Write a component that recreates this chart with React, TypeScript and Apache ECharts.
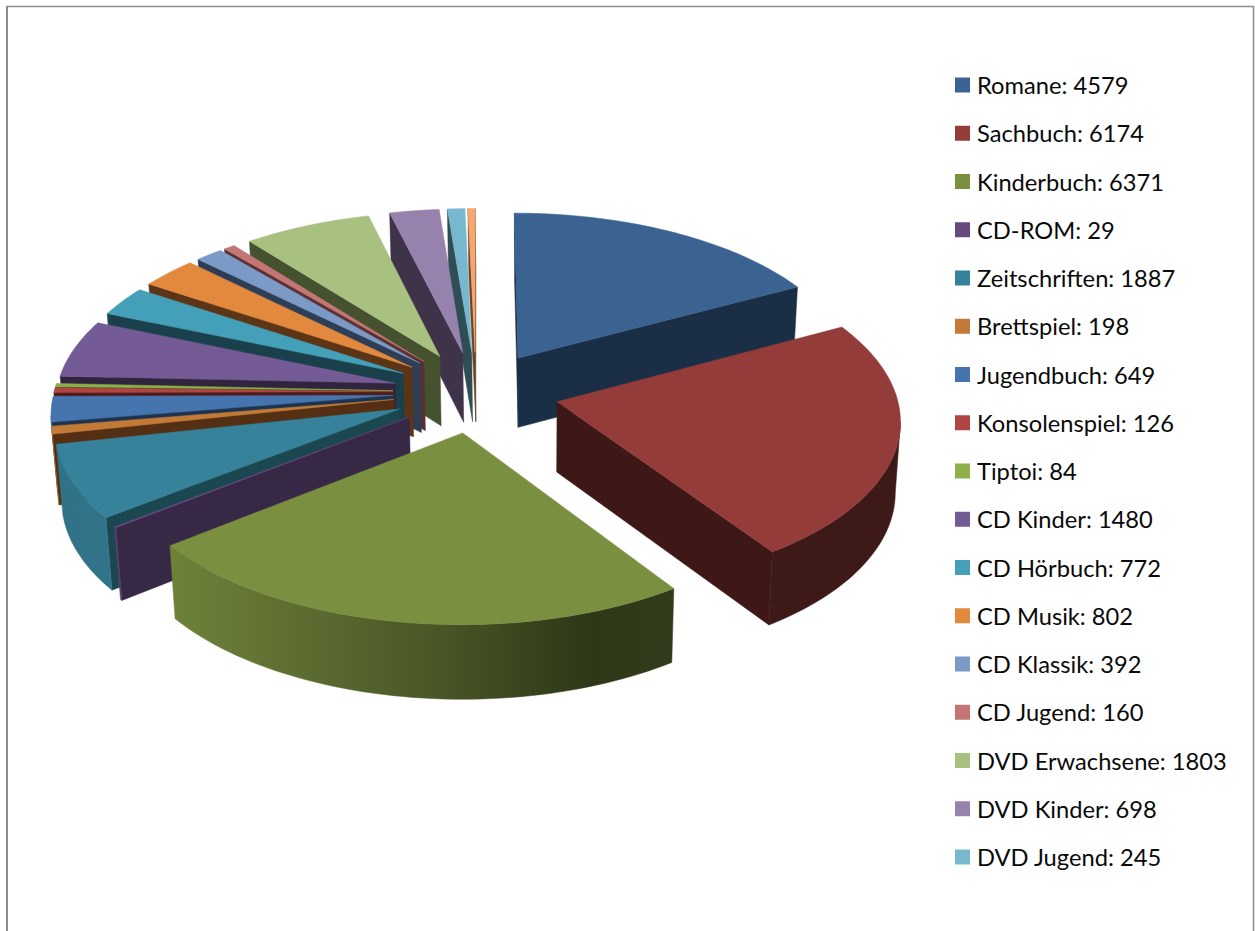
import React, { useEffect, useRef } from "react";
import * as echarts from "echarts";

const categories = ["Romane","Sachbuch","Kinderbuch","CD-ROM","Zeitschriften","Brettspiel","Jugendbuch","Konsolenspiel","Tiptoi","CD Kinder","CD Hörbuch","CD Musik","CD Klassik","CD Jugend","DVD Erwachsene","DVD Kinder","DVD Jugend","Sonstige"];
const values = [4579,6174,6371,29,1887,198,649,126,84,1480,772,802,392,160,1803,698,245,100];
const legendCount = 17;
const topColors = ["#3a6391","#943c3a","#7a9040","#65497f","#37829b","#c27a36","#4674ae","#b04643","#8db04a","#755b95","#43a0b8","#e2893d","#7c9ac6","#c37675","#a9c180","#9782ad","#78b8ce","#f7a66f"];
const wallColors = ["#1a2f45","#3d1816","#333d1a","#372945","#1b4751","#542f13","#1d3450","#501c1b","#3c4a1e","#31243e","#1a404c","#5c3517","#2d3e56","#5a3032","#46522f","#3e3349","#2f4d55","#6c4527"];

const CX = 476, CY = 392, RX = 339, RY = 165, PERSP = 0.096, EXPLODE = 0.245, DEPTH = 70, VANISH_X = 530, CONVERGE = 0.014;
const total = values.reduce((a, b) => a + b, 0);
const RAD = Math.PI / 180;
const starts: number[] = [];
values.reduce((acc, v, i) => { starts[i] = acc; return acc + (v / total) * 360; }, 0);
const ends = values.map((v, i) => starts[i] + (v / total) * 360);
const mids = values.map((_, i) => (starts[i] + ends[i]) / 2);

function project(U: number, Y: number, down: boolean): number[] {
  const s = 1 / (1 - PERSP * Y);
  const x = CX + RX * U * s;
  const y = CY + RY * Y * s;
  if (!down) return [x, y];
  return [x + (VANISH_X - x) * CONVERGE, y + DEPTH * Math.sqrt(s)];
}

function shade(hex: string, f: number): string {
  const n = parseInt(hex.slice(1), 16);
  const c = [(n >> 16) & 255, (n >> 8) & 255, n & 255].map((v) => Math.round(v * f));
  return `rgb(${c[0]},${c[1]},${c[2]})`;
}

function wedgePoint(i: number, deg: number | null, down: boolean): number[] {
  const m = mids[i] * RAD;
  let U = EXPLODE * Math.sin(m);
  let Y = -EXPLODE * Math.cos(m);
  if (deg !== null) {
    U += Math.sin(deg * RAD);
    Y -= Math.cos(deg * RAD);
  }
  return project(U, Y, down);
}

function sample(a: number, b: number): number[] {
  const n = Math.max(2, Math.ceil((b - a) / 1.5));
  const out: number[] = [];
  for (let k = 0; k <= n; k++) out.push(a + ((b - a) * k) / n);
  return out;
}

// Angle at which the slice's rim reaches its outermost x on screen: the silhouette of the outer wall.
function extremeAngle(i: number, from: number, to: number, sign: number): number {
  let best = from;
  let bestX = -Infinity;
  for (let d = from; d <= to; d += 0.5) {
    const x = sign * wedgePoint(i, d, false)[0];
    if (x > bestX) { bestX = x; best = d; }
  }
  return best;
}

function polygon(points: number[][], fill: any) {
  return {
    type: "polygon",
    shape: { points },
    style: { fill, stroke: fill, lineWidth: 0.5 },
    silent: true,
  };
}

function renderSlice(i: number) {
  const children: any[] = [];
  const A = wedgePoint(i, null, false);
  const Ad = wedgePoint(i, null, true);
  const M = wedgePoint(i, mids[i], false);
  [starts[i], ends[i]].forEach((deg) => {
    const C = wedgePoint(i, deg, false);
    const d = [C[0] - A[0], C[1] - A[1]];
    const n = [M[0] - A[0], M[1] - A[1]];
    const cross = d[0] * n[1] - d[1] * n[0];
    if (cross * d[0] < 0) {
      children.push(polygon([A, C, wedgePoint(i, deg, true), Ad], wallColors[i]));
    }
  });
  const fa = Math.max(starts[i], extremeAngle(i, 60, 130, 1));
  const fb = Math.min(ends[i], extremeAngle(i, 230, 300, -1));
  if (fb > fa) {
    const arc = sample(fa, fb);
    const pts = arc.map((d) => wedgePoint(i, d, false)).concat(arc.slice().reverse().map((d) => wedgePoint(i, d, true)));
    const base = topColors[i];
    const w = 1255;
    const grad = new echarts.graphic.LinearGradient(0, 0, w, 0, [
      { offset: 0, color: shade(base, 0.86) },
      { offset: 170 / w, color: shade(base, 0.9) },
      { offset: 300 / w, color: shade(base, 0.76) },
      { offset: 450 / w, color: shade(base, 0.58) },
      { offset: 590 / w, color: shade(base, 0.38) },
      { offset: 700 / w, color: shade(base, 0.415) },
      { offset: 1, color: shade(base, 0.415) },
    ], true);
    children.push(polygon(pts, grad));
  }
  const topArc = sample(starts[i], ends[i]).map((d) => wedgePoint(i, d, false));
  children.push(polygon([A, ...topArc], topColors[i]));
  return { type: "group", children };
}

const labelOf = (i: number) => `${categories[i]}: ${values[i]}`;
const paintOrder = values.map((_, i) => i).sort((a, b) => Math.abs(mids[b] - 180) - Math.abs(mids[a] - 180));

export default function App() {
  const ref = useRef<HTMLDivElement>(null);
  useEffect(() => {
    document.body.style.margin = "0";
    const chart = echarts.init(ref.current!, null, { renderer: "svg" });
    chart.setOption({
      animation: false,
      backgroundColor: "#ffffff",
      legend: {
        orient: "vertical",
        left: 950,
        top: 67,
        icon: "rect",
        itemWidth: 15,
        itemHeight: 15,
        itemGap: 22.25,
        height: 850,
        selectedMode: false,
        data: categories.slice(0, legendCount).map((_, i) => labelOf(i)),
        textStyle: { fontFamily: "Lato", fontSize: 23.7, color: "#0a0a0a", lineHeight: 26, padding: [0, 0, 0, 2] },
      },
      graphic: [
        { type: "line", shape: { x1: 7, y1: 6.5, x2: 7, y2: 931 }, style: { stroke: "#8c8c8c", lineWidth: 2 }, silent: true },
        { type: "line", shape: { x1: 6, y1: 6.5, x2: 1254, y2: 6.5 }, style: { stroke: "#8c8c8c", lineWidth: 1.5 }, silent: true },
        { type: "line", shape: { x1: 1253.5, y1: 6, x2: 1253.5, y2: 931 }, style: { stroke: "#8c8c8c", lineWidth: 1.5 }, silent: true },
      ],
      series: paintOrder.map((i) => ({
        type: "custom",
        name: labelOf(i),
        coordinateSystem: "none",
        silent: true,
        itemStyle: { color: topColors[i] },
        data: [values[i]],
        renderItem: () => renderSlice(i),
      })),
    });
    return () => chart.dispose();
  }, []);
  return <div ref={ref} style={{ position: "absolute", left: 0, top: 0, width: 1255, height: 931 }} />;
}
